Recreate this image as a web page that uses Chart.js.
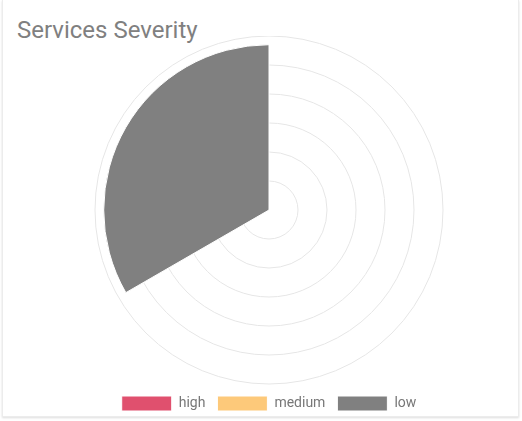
<!DOCTYPE html>
<html>
<head>
<meta charset="utf-8">
<script src="https://cdn.jsdelivr.net/npm/chart.js@4/dist/chart.umd.min.js"></script>
<style>
  html, body { margin: 0; padding: 0; background: #fff; }
  .card {
    position: absolute; left: 2px; top: 0; width: 515px; height: 416px;
    border: 1px solid #ececec; border-top: none; box-shadow: 0 1px 2px #ddd;
    font-family: Roboto, sans-serif;
  }
  .card h3 {
    position: absolute; left: 14px; top: 16px; margin: 0;
    font-weight: 400; font-size: 24px; color: #808080;
  }
  .wrap { position: absolute; left: 14px; top: 36px; width: 504px; height: 385px; }
</style>
</head>
<body>
<div class="card">
  <h3>Services Severity</h3>
  <div class="wrap"><canvas id="myChart"></canvas></div>
</div>
<script>
var labels = ["high", "medium", "low"];
var counts = [0, 0, 57];
var barColors = ["#e0506e", "#fdc97a", "#808080"];

function chart() {
  const ctx = document.getElementById("myChart");
  new Chart(ctx, {
    type: "polarArea",
    data: {
      labels: labels,
      datasets: [
        {
          data: counts,
          backgroundColor: barColors,
          borderColor: "#fff",
          borderWidth: 1,
        },
      ],
    },
    options: {
      responsive: true,
      maintainAspectRatio: false,
      animation: false,
      layout: { padding: 0 },
      scales: {
        r: {
          min: 0,
          max: 60,
          ticks: { display: false, stepSize: 10 },
          grid: { color: "#e6e6e6" },
        },
      },
      plugins: {
        legend: {
          position: "bottom",
          labels: {
            boxWidth: 50,
            boxHeight: 15,
            padding: 12,
            color: "#777",
            font: { family: "Roboto", size: 14 },
          },
        },
        tooltip: { enabled: false },
      },
    },
  });
}

chart();
</script>
</body>
</html>
